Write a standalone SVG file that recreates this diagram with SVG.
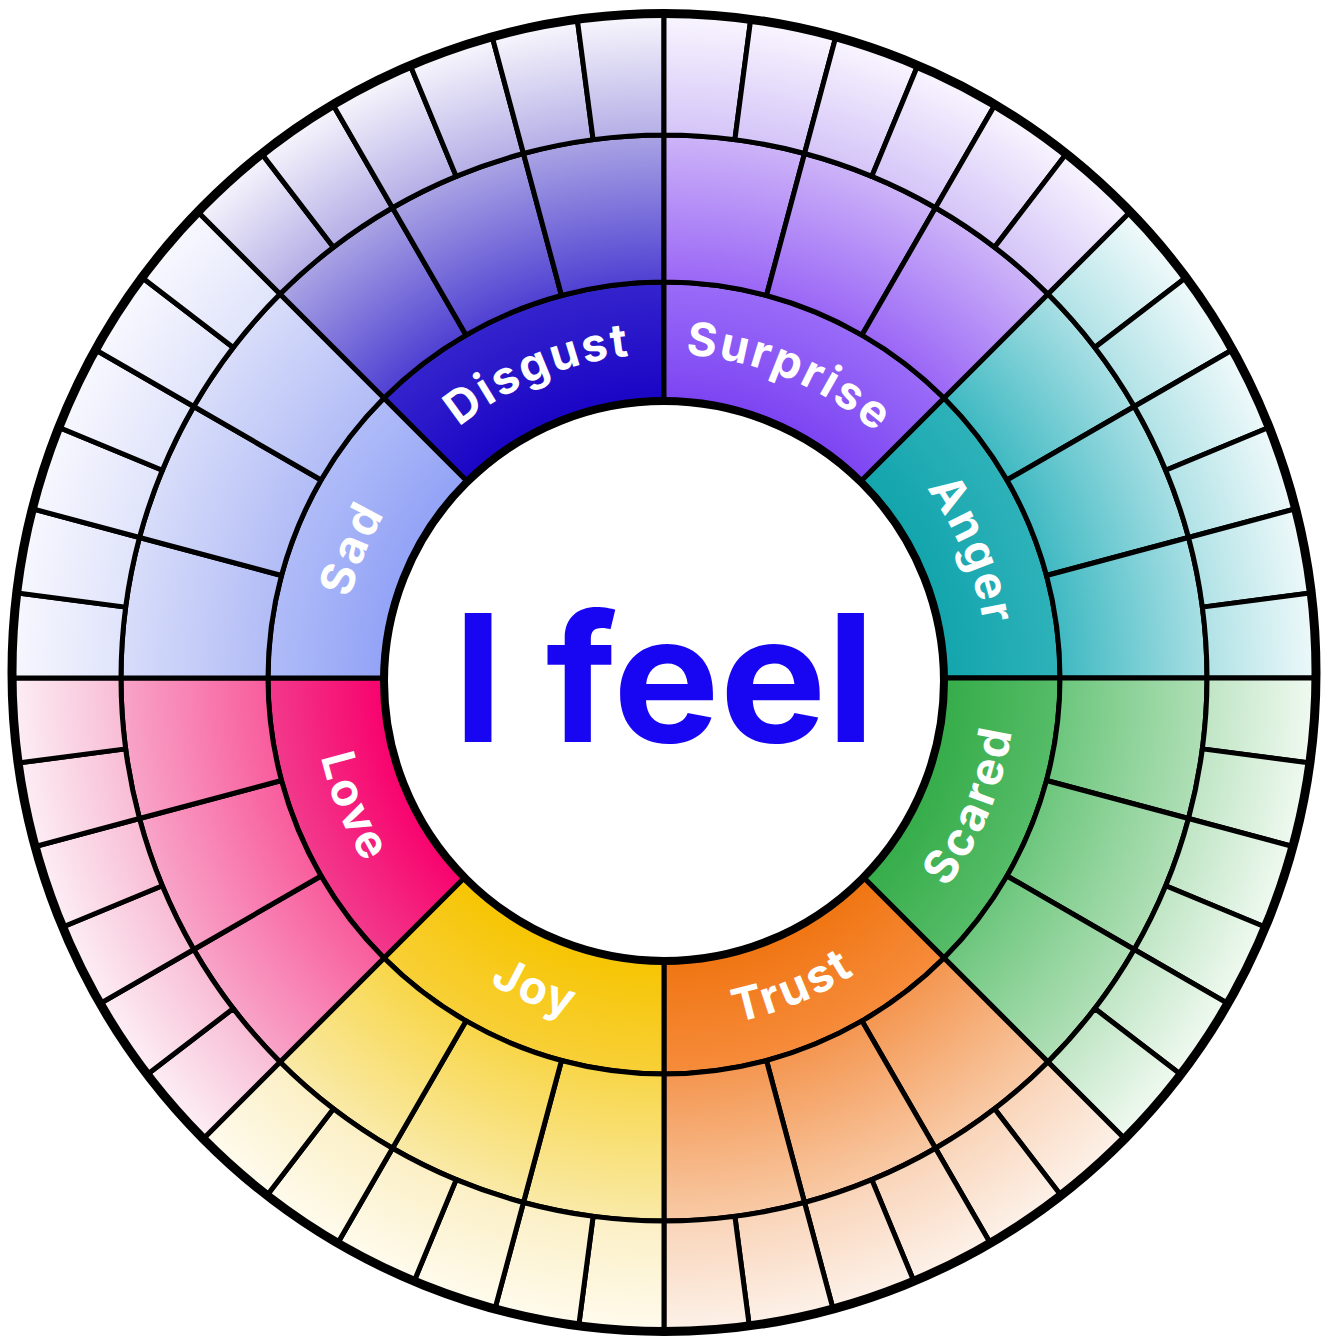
<svg xmlns="http://www.w3.org/2000/svg" xmlns:xlink="http://www.w3.org/1999/xlink" width="1328" height="1336" viewBox="0 0 1328 1336">
<style>
.cell{stroke:#000;stroke-width:5;stroke-linejoin:round}
.lbl{fill:#fff;font-family:Inter,"Noto Sans",sans-serif;font-weight:700;font-size:46px;letter-spacing:2.5px}
.ring{fill:none;stroke:#000}
</style>
<defs>
<radialGradient id="g-disgust" gradientUnits="userSpaceOnUse" cx="0" cy="0" r="660">
<stop offset="0.42" stop-color="#1a04c6"/><stop offset="0.6" stop-color="#3424cc"/>
<stop offset="0.6" stop-color="#4f40d2"/><stop offset="0.822" stop-color="#aaa4e4"/>
<stop offset="0.822" stop-color="#b4aee6"/><stop offset="1" stop-color="#f6f4fc"/>
</radialGradient>
<radialGradient id="g-surprise" gradientUnits="userSpaceOnUse" cx="0" cy="0" r="660">
<stop offset="0.42" stop-color="#7c44f2"/><stop offset="0.6" stop-color="#9a6cf8"/>
<stop offset="0.6" stop-color="#9a66f6"/><stop offset="0.822" stop-color="#cdb4f8"/>
<stop offset="0.822" stop-color="#d4c4f8"/><stop offset="1" stop-color="#f8f4fe"/>
</radialGradient>
<radialGradient id="g-anger" gradientUnits="userSpaceOnUse" cx="0" cy="0" r="660">
<stop offset="0.42" stop-color="#12a4ac"/><stop offset="0.6" stop-color="#2eb2ba"/>
<stop offset="0.6" stop-color="#3fb9c2"/><stop offset="0.822" stop-color="#a8dfe4"/>
<stop offset="0.822" stop-color="#b0e2e6"/><stop offset="1" stop-color="#f2fafb"/>
</radialGradient>
<radialGradient id="g-scared" gradientUnits="userSpaceOnUse" cx="0" cy="0" r="660">
<stop offset="0.42" stop-color="#34ac48"/><stop offset="0.6" stop-color="#56bc68"/>
<stop offset="0.6" stop-color="#6cc67c"/><stop offset="0.822" stop-color="#b0dfb6"/>
<stop offset="0.822" stop-color="#bfe5c4"/><stop offset="1" stop-color="#f4fbf4"/>
</radialGradient>
<radialGradient id="g-trust" gradientUnits="userSpaceOnUse" cx="0" cy="0" r="660">
<stop offset="0.42" stop-color="#f07410"/><stop offset="0.6" stop-color="#f68c3c"/>
<stop offset="0.6" stop-color="#f49650"/><stop offset="0.822" stop-color="#f8caa6"/>
<stop offset="0.822" stop-color="#f9d4b8"/><stop offset="1" stop-color="#fdf3ec"/>
</radialGradient>
<radialGradient id="g-joy" gradientUnits="userSpaceOnUse" cx="0" cy="0" r="660">
<stop offset="0.42" stop-color="#f6c400"/><stop offset="0.6" stop-color="#f8d038"/>
<stop offset="0.6" stop-color="#f8d648"/><stop offset="0.822" stop-color="#f9eaa8"/>
<stop offset="0.822" stop-color="#fbefc4"/><stop offset="1" stop-color="#fffcf0"/>
</radialGradient>
<radialGradient id="g-love" gradientUnits="userSpaceOnUse" cx="0" cy="0" r="660">
<stop offset="0.42" stop-color="#f8006c"/><stop offset="0.6" stop-color="#f23a8c"/>
<stop offset="0.6" stop-color="#f85c9c"/><stop offset="0.822" stop-color="#f8a4c8"/>
<stop offset="0.822" stop-color="#f8bcd4"/><stop offset="1" stop-color="#fdf2f7"/>
</radialGradient>
<radialGradient id="g-sad" gradientUnits="userSpaceOnUse" cx="0" cy="0" r="660">
<stop offset="0.42" stop-color="#92a2f6"/><stop offset="0.6" stop-color="#b0bcf8"/>
<stop offset="0.6" stop-color="#b2bcf6"/><stop offset="0.822" stop-color="#d8ddfa"/>
<stop offset="0.822" stop-color="#e0e4fb"/><stop offset="1" stop-color="#f8f8fe"/>
</radialGradient>
<clipPath id="rim"><ellipse cx="664" cy="672.5" rx="652" ry="659"/></clipPath>
<g id="cells">
<path class="cell" d="M230.97 -95.67 L365.86 -151.54 A396 396 0 0 1 365.86 151.54 L230.97 95.67 A250 250 0 0 0 230.97 -95.67 Z"/>
<path class="cell" d="M365.86 -151.54 L501.67 -207.80 A543 543 0 0 1 538.35 -70.88 L392.61 -51.69 A396 396 0 0 0 365.86 -151.54 Z"/>
<path class="cell" d="M392.61 -51.69 L538.35 -70.88 A543 543 0 0 1 538.35 70.88 L392.61 51.69 A396 396 0 0 0 392.61 -51.69 Z"/>
<path class="cell" d="M392.61 51.69 L538.35 70.88 A543 543 0 0 1 501.67 207.80 L365.86 151.54 A396 396 0 0 0 392.61 51.69 Z"/>
<path class="cell" d="M501.67 -207.80 L637.48 -264.05 A690 690 0 0 1 666.49 -178.59 L524.50 -140.54 A543 543 0 0 0 501.67 -207.80 Z"/>
<path class="cell" d="M524.50 -140.54 L666.49 -178.59 A690 690 0 0 1 684.10 -90.06 L538.35 -70.88 A543 543 0 0 0 524.50 -140.54 Z"/>
<path class="cell" d="M538.35 -70.88 L684.10 -90.06 A690 690 0 0 1 690 0 L543 0 A543 543 0 0 0 538.35 -70.88 Z"/>
<path class="cell" d="M543 0 L690 0 A690 690 0 0 1 684.10 90.06 L538.35 70.88 A543 543 0 0 0 543 0 Z"/>
<path class="cell" d="M538.35 70.88 L684.10 90.06 A690 690 0 0 1 666.49 178.59 L524.50 140.54 A543 543 0 0 0 538.35 70.88 Z"/>
<path class="cell" d="M524.50 140.54 L666.49 178.59 A690 690 0 0 1 637.48 264.05 L501.67 207.80 A543 543 0 0 0 524.50 140.54 Z"/>
</g>
<path id="arc-cw" d="M265.41 -185.84 A324 324 0 0 1 265.41 185.84"/>
<path id="arc-ccw" d="M288.34 201.90 A352 352 0 0 0 288.34 -201.90"/>
</defs>
<rect width="1328" height="1336" fill="#fff"/>
<g clip-path="url(#rim)">
<g id="sector-anger" transform="translate(664 678) rotate(-22.5)" fill="url(#g-anger)"><use href="#cells"/><text class="lbl" text-anchor="middle"><textPath href="#arc-cw" startOffset="50%">Anger</textPath></text></g>
<g id="sector-scared" transform="translate(664 678) rotate(22.5)" fill="url(#g-scared)"><use href="#cells"/><text class="lbl" text-anchor="middle"><textPath href="#arc-ccw" startOffset="50%">Scared</textPath></text></g>
<g id="sector-trust" transform="translate(664 678) rotate(67.5)" fill="url(#g-trust)"><use href="#cells"/><text class="lbl" text-anchor="middle"><textPath href="#arc-ccw" startOffset="50%">Trust</textPath></text></g>
<g id="sector-joy" transform="translate(664 678) rotate(112.5)" fill="url(#g-joy)"><use href="#cells"/><text class="lbl" text-anchor="middle"><textPath href="#arc-ccw" startOffset="50%">Joy</textPath></text></g>
<g id="sector-love" transform="translate(664 678) rotate(157.5)" fill="url(#g-love)"><use href="#cells"/><text class="lbl" text-anchor="middle"><textPath href="#arc-ccw" startOffset="50%">Love</textPath></text></g>
<g id="sector-sad" transform="translate(664 678) rotate(202.5)" fill="url(#g-sad)"><use href="#cells"/><text class="lbl" text-anchor="middle"><textPath href="#arc-cw" startOffset="50%">Sad</textPath></text></g>
<g id="sector-disgust" transform="translate(664 678) rotate(247.5)" fill="url(#g-disgust)"><use href="#cells"/><text class="lbl" text-anchor="middle"><textPath href="#arc-cw" startOffset="50%">Disgust</textPath></text></g>
<g id="sector-surprise" transform="translate(664 678) rotate(292.5)" fill="url(#g-surprise)"><use href="#cells"/><text class="lbl" text-anchor="middle"><textPath href="#arc-cw" startOffset="50%">Surprise</textPath></text></g>
</g>
<g id="connectors">
<ellipse class="ring" cx="664" cy="672.5" rx="652" ry="659" stroke-width="9"/>
</g>
<g id="center">
<circle cx="664" cy="681" r="280" fill="#fff" stroke="#000" stroke-width="8"/>
<text x="453" y="742" textLength="422" lengthAdjust="spacingAndGlyphs" fill="#1806f2" font-family="Inter,'Noto Sans',sans-serif" font-weight="700" font-size="177">I feel</text>
</g>
</svg>
